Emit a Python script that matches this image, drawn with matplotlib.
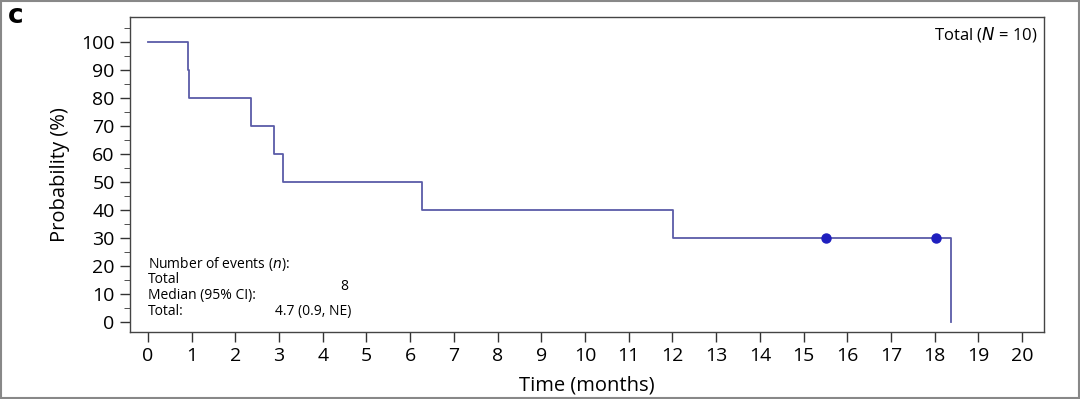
import matplotlib
matplotlib.use("Agg")
import matplotlib.pyplot as plt
from matplotlib.ticker import MultipleLocator

plt.rcParams['font.family'] = ['Open Sans', 'DejaVu Sans']

# Kaplan-Meier step data
event_times = [0, 0.915, 0.95, 2.36, 2.88, 3.10, 6.27, 12.02, 18.38]
survival = [100, 90, 80, 70, 60, 50, 40, 30, 0]
censor_times = [15.52, 18.03]
censor_surv = [30, 30]
x_ticks = list(range(0, 21))
y_ticks = list(range(0, 101, 10))

line_color = '#5a5ca8'
marker_color = '#1f1fbf'

fig = plt.figure(figsize=(10.8, 3.99), dpi=100)
ax = fig.add_axes([130/1080, 1-332/399, (1044-130)/1080, (332-17)/399])

ax.step(event_times, survival, where='post', color=line_color, lw=1.3)
ax.plot(censor_times, censor_surv, 'o', color=marker_color, ms=6.5, zorder=3)

ax.set_xlim(-0.41, 20.5)
ax.set_ylim(-3.6, 109)
ax.set_xticks(x_ticks)
ax.set_yticks(y_ticks)
ax.yaxis.set_minor_locator(MultipleLocator(5))
ax.tick_params(axis='both', which='major', labelsize=14, length=7, color='#333333', width=1.0)
ax.tick_params(axis='y', which='minor', length=4, color='#333333')
ax.tick_params(axis='x', pad=4)
ax.tick_params(axis='y', pad=4)
for s in ax.spines.values():
    s.set_color('#444444')
    s.set_linewidth(1.0)

ax.set_xlabel('Time (months)', fontsize=14.5, labelpad=7)
ax.set_ylabel('Probability (%)', fontsize=14.5, labelpad=8)

ax.text(0.993, 0.975, 'Total ($N$ = 10)', transform=ax.transAxes, ha='right', va='top', fontsize=12)

fs = 10
ax.text(0, 20.8, 'Number of events ($n$):', fontsize=fs, va='center')
ax.text(0, 15.0, 'Total', fontsize=fs, va='center')
ax.text(4.5, 12.5, '8', fontsize=fs, va='center', ha='center')
ax.text(0, 9.4, 'Median (95% CI):', fontsize=fs, va='center')
ax.text(0, 3.7, 'Total:', fontsize=fs, va='center')
ax.text(2.9, 3.7, '4.7 (0.9, NE)', fontsize=fs, va='center')

fig.text(8/1080, 1-16/399, 'c', fontsize=19, fontweight='black', family='DejaVu Sans',
         va='center', ha='left')

border = plt.Rectangle((0.001, 0.002), 0.998, 0.995, transform=fig.transFigure,
                       fill=False, edgecolor='#888888', lw=1.5)
fig.patches.append(border)

fig.savefig('out.png', dpi=100, facecolor='white')
